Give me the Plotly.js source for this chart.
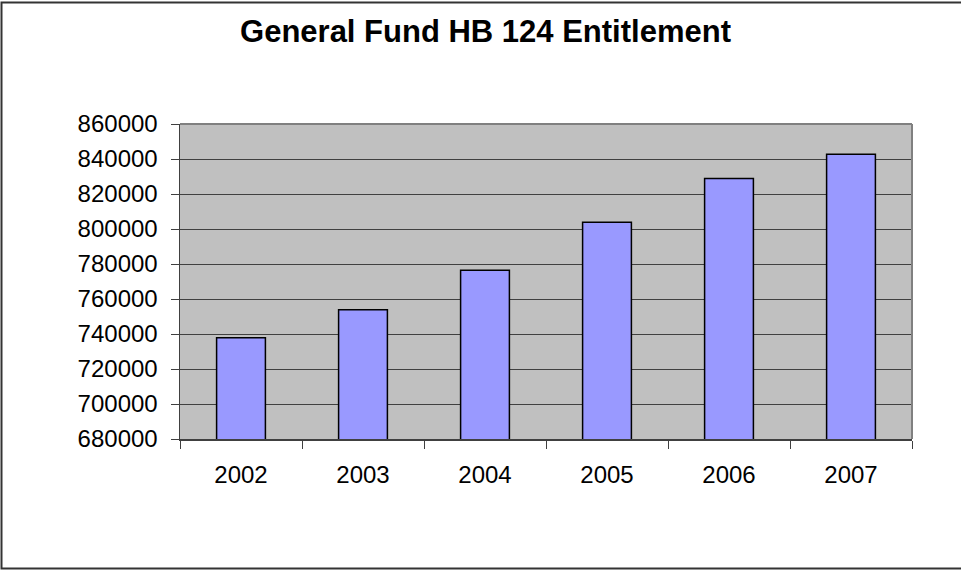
<!DOCTYPE html>
<html>
<head>
<meta charset="utf-8">
<script src="https://cdn.plot.ly/plotly-3.0.1.min.js"></script>
<style>
html,body{margin:0;padding:0;background:#fff;}
#chart{width:961px;height:571px;}
</style>
</head>
<body>
<div id="chart"></div>
<script>
const years = ['2002', '2003', '2004', '2005', '2006', '2007'];
const entitlement = [737900, 753800, 776400, 803800, 828900, 842700];
const yTickValues = [680000, 700000, 720000, 740000, 760000, 780000, 800000, 820000, 840000, 860000];

const trace = {
  type: 'bar',
  x: years,
  y: entitlement,
  marker: {color: '#9999ff', line: {color: '#000000', width: 1.5}},
  hoverinfo: 'x+y'
};

const W = 961, H = 571, L = 180, R = 49, T = 123.5, B = 131.5;
const pw = W - L - R, ph = H - T - B;
const px = v => (v - L) / pw;
const py = v => 1 - (v - T) / ph;

const layout = {
  width: W, height: H,
  margin: {l: L, r: R, t: T, b: B, pad: 0},
  paper_bgcolor: '#ffffff',
  plot_bgcolor: '#c0c0c0',
  font: {family: '"Liberation Sans", Arial, sans-serif', size: 24, color: '#000000'},
  title: {
    text: 'General Fund HB 124 Entitlement',
    font: {family: '"Liberation Sans", Arial, sans-serif', size: 31, weight: 'bold', color: '#000000'},
    x: 485.5 / W, xref: 'container', xanchor: 'center',
    y: 1 - 31 / H, yref: 'container', yanchor: 'middle'
  },
  bargap: 0.6,
  showlegend: false,
  xaxis: {
    type: 'category',
    showgrid: false,
    showline: true, linecolor: '#404040', linewidth: 1.5,
    ticks: 'outside', ticklen: 8, tickcolor: '#404040', tickwidth: 1,
    tickson: 'boundaries',
    ticklabelstandoff: 14,
    tickfont: {size: 24},
    zeroline: false, fixedrange: true
  },
  yaxis: {
    range: [680000, 860000],
    tickmode: 'array', tickvals: yTickValues,
    ticktext: yTickValues.map(v => String(v)),
    showgrid: true, gridcolor: '#404040', gridwidth: 1,
    showline: true, linecolor: '#404040', linewidth: 1.5,
    ticks: 'outside', ticklen: 8, tickcolor: '#404040', tickwidth: 1,
    ticklabelstandoff: 8,
    tickfont: {size: 24},
    zeroline: false, fixedrange: true
  },
  shapes: [
    {type: 'line', xref: 'paper', yref: 'paper', x0: 0, x1: 1, y0: 1, y1: 1,
     line: {color: '#808080', width: 2}},
    {type: 'line', xref: 'paper', yref: 'paper', x0: 1, x1: 1, y0: 0, y1: 1,
     line: {color: '#808080', width: 2}},
    {type: 'path', xref: 'paper', yref: 'paper',
     path: `M ${px(W + 5)} ${py(1.5)} L ${px(1.5)} ${py(1.5)} L ${px(1.5)} ${py(569.3)} L ${px(W + 5)} ${py(569.3)}`,
     line: {color: '#333333', width: 2}}
  ]
};

Plotly.newPlot('chart', [trace], layout, {displayModeBar: false, staticPlot: true});
</script>
</body>
</html>
